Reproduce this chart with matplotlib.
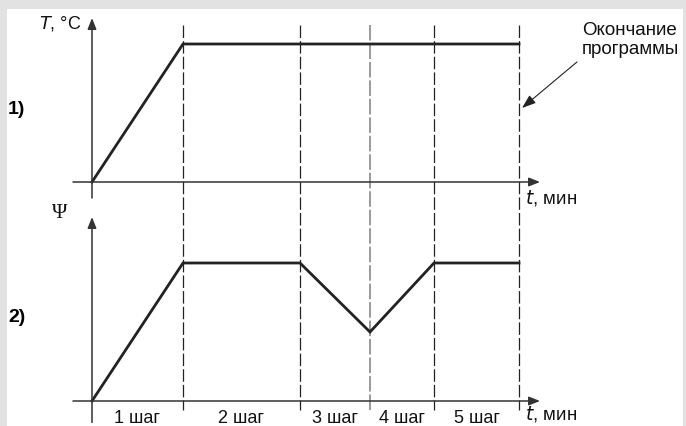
import matplotlib
matplotlib.use("Agg")
import matplotlib.pyplot as plt
from matplotlib.patches import Rectangle

# step boundaries, min (end of each step)
step_ends = [9.1, 20.8, 27.8, 34.2, 42.7]
step_labels = ["1 шаг", "2 шаг", "3 шаг", "4 шаг", "5 шаг"]

# 1) temperature program
temp_t = [0, 9.1, 42.7]
temp_val = [0, 100, 100]

# 2) Psi program
psi_t = [0, 9.1, 20.8, 27.8, 34.2, 42.7]
psi_val = [0, 100, 100, 50, 100, 100]

W, H = 686, 426
X0, XS = 92, 10.0      # pixel of t=0, pixels per minute
LEFT, RIGHT = 0, 686
LINE = "#222222"
AXC = "#333333"
plt.rcParams["font.family"] = ["Liberation Sans", "DejaVu Sans"]

fig = plt.figure(figsize=(W / 100, H / 100), dpi=100)
fig.patch.set_facecolor("#e2e2e2")
fig.patches.append(Rectangle((7 / W, 0), 676 / W, 1 - 9 / H, transform=fig.transFigure,
                             facecolor="white", edgecolor="none", zorder=-5))

xlim = ((LEFT - X0) / XS, (RIGHT - X0) / XS)


def panel(top_px, bot_px, zero_py, unit_py):
    ax = fig.add_axes([LEFT / W, 1 - bot_px / H, (RIGHT - LEFT) / W, (bot_px - top_px) / H])
    ax.set_xlim(*xlim)
    ax.set_ylim((zero_py - bot_px) / unit_py, (zero_py - top_px) / unit_py)
    ax.axis("off")
    ax.patch.set_alpha(0)
    return ax


# background axes for dashed step lines (y in pixels)
ax_bg = fig.add_axes([LEFT / W, 0, (RIGHT - LEFT) / W, 1])
ax_bg.set_xlim(*xlim)
ax_bg.set_ylim(H, 0)
ax_bg.axis("off")
ax_bg.patch.set_alpha(0)
for i, te in enumerate(step_ends):
    if i == 2:
        ax_bg.vlines(te, 25, 410, colors="#9a9a9a", lw=1.4, linestyles=(0, (8, 1.5)))
    else:
        ax_bg.vlines(te, 25, 410, colors="#222222", lw=0.9, linestyles=(0, (10, 2.5)))

ax1 = panel(0, 205, 182, 1.38)
ax2 = panel(205, 426, 401, 1.38)

arrow_kw = dict(arrowstyle="-|>,head_length=0.55,head_width=0.22", lw=1.1, color=AXC,
                shrinkA=0, shrinkB=0, mutation_scale=12)

for ax, y_lo, y_hi in [(ax1, -11.6, 118.8), (ax2, -15.5, 133.3)]:
    ax.annotate("", xy=(44.8, 0), xytext=(-1.9, 0), arrowprops=arrow_kw)
    ax.annotate("", xy=(0, y_hi), xytext=(0, y_lo), arrowprops=arrow_kw)

ax1.plot(temp_t, temp_val, color=LINE, lw=2.0, solid_joinstyle="miter")
ax2.plot(psi_t, psi_val, color=LINE, lw=2.0, solid_joinstyle="miter")

# axis labels
ax1.text(-1.1, 114.5, r"$T$, °C", ha="right", va="center", fontsize=13, color="#111111")
ax1.text(43.3, -11.5, r"$t$, мин", ha="left", va="center", fontsize=13.5, color="#111111")
ax2.text(43.3, -9.5, r"$t$, мин", ha="left", va="center", fontsize=13.5, color="#111111")
ax2.text(-2.5, 136, "Ψ", ha="right", va="center", fontsize=15, color="#111111",
         family=["Liberation Serif", "DejaVu Serif"])
fig.text(8 / W, 1 - 110 / H, "1)", fontsize=14, fontweight="bold", va="center")
fig.text(8 / W, 1 - 318 / H, "2)", fontsize=14, fontweight="bold", va="center")

# step labels
starts = [0] + step_ends[:-1]
for s, e, lab in zip(starts, step_ends, step_labels):
    ax2.text((s + e) / 2, -12.5, lab, ha="center", va="center", fontsize=13, color="#111111")

# end of program note
ax1.text(49.0, 103, "Окончание\nпрограммы", ha="left", va="center", fontsize=13.5,
         color="#111111", linespacing=1.15)
ax1.annotate("", xy=(43.0, 53.6), xytext=(48.5, 87),
             arrowprops=dict(arrowstyle="-|>,head_length=0.7,head_width=0.25", lw=0.8,
                             color="#222222", shrinkA=0, shrinkB=0, mutation_scale=12))

fig.savefig("out.png", dpi=100, facecolor=fig.get_facecolor())
